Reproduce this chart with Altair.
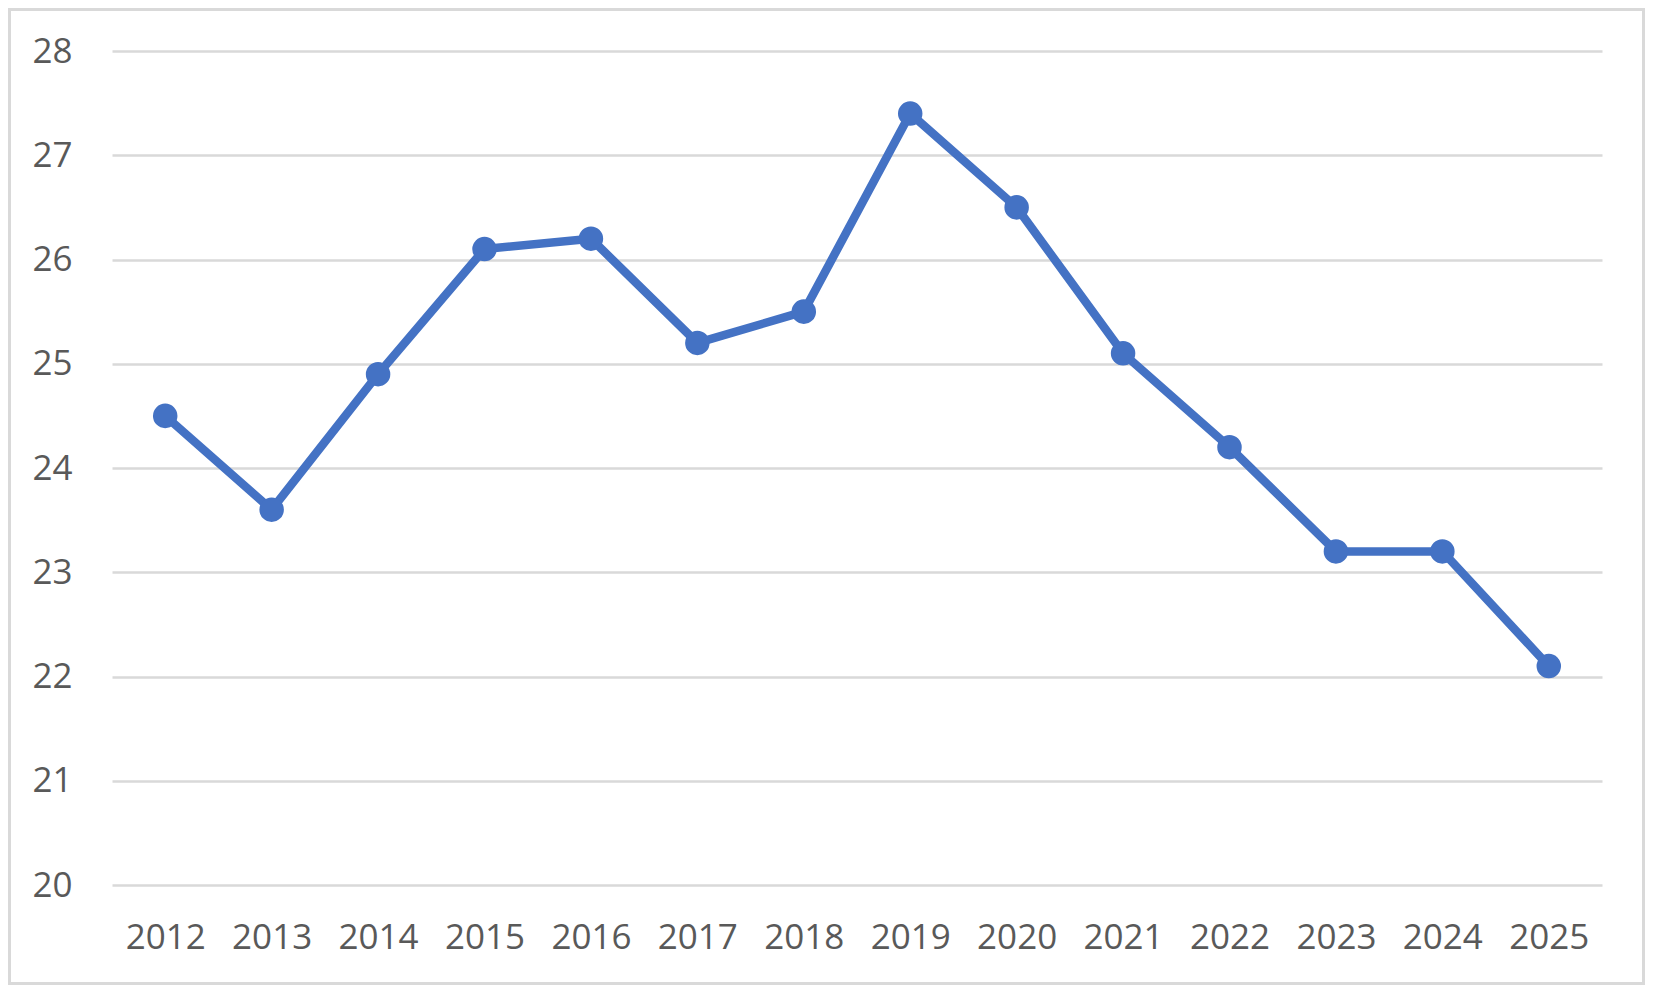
import altair as alt
import pandas as pd

years = [str(y) for y in range(2012, 2026)]
values = [24.5, 23.6, 24.9, 26.1, 26.2, 25.2, 25.5, 27.4, 26.5, 25.1, 24.2, 23.2, 23.2, 22.1]

df = pd.DataFrame({"year": years, "value": values})

W, H = 1490, 834
PADL, PADT, PADR, PADB = 104, 43, 43, 100

x = alt.X("year:O", title=None,
          scale=alt.Scale(type="point", padding=0.5),
          axis=alt.Axis(labelAngle=0, ticks=False, domain=False, grid=False,
                        labelFont="Open Sans", labelFontSize=35, labelColor="#595959",
                        labelPadding=52, labelBaseline="middle"))
y = alt.Y("value:Q", title=None,
          scale=alt.Scale(domain=[20, 28], nice=False, zero=False),
          axis=alt.Axis(values=list(range(20, 29)), ticks=False, domain=False,
                        grid=True, gridColor="#d9d9d9", gridWidth=2.5,
                        labelFont="Open Sans", labelFontSize=35, labelColor="#595959",
                        labelPadding=40))

line = alt.Chart(df).mark_line(color="#4472c4", strokeWidth=8.5,
                               strokeJoin="round", strokeCap="round").encode(x=x, y=y)
pts = alt.Chart(df).mark_circle(color="#4472c4", size=600, opacity=1).encode(x=x, y=y)

border = alt.Chart(pd.DataFrame({"a": [0]})).mark_rect(
    fill="transparent", stroke="#d9d9d9", strokeWidth=3, clip=False
).encode(
    x=alt.value(-PADL + 1.5), x2=alt.value(W + PADR - 1.5),
    y=alt.value(-PADT + 1.5), y2=alt.value(H + PADB - 1.5),
)

chart = alt.layer(border, line, pts).properties(
    width=W, height=H,
    background="white",
    autosize=alt.AutoSizeParams(type="none"),
    padding={"left": PADL, "top": PADT, "right": PADR, "bottom": PADB},
).configure_view(strokeWidth=0, stroke=None)

chart.save("out.html", embed_options={"renderer": "svg", "actions": False})
